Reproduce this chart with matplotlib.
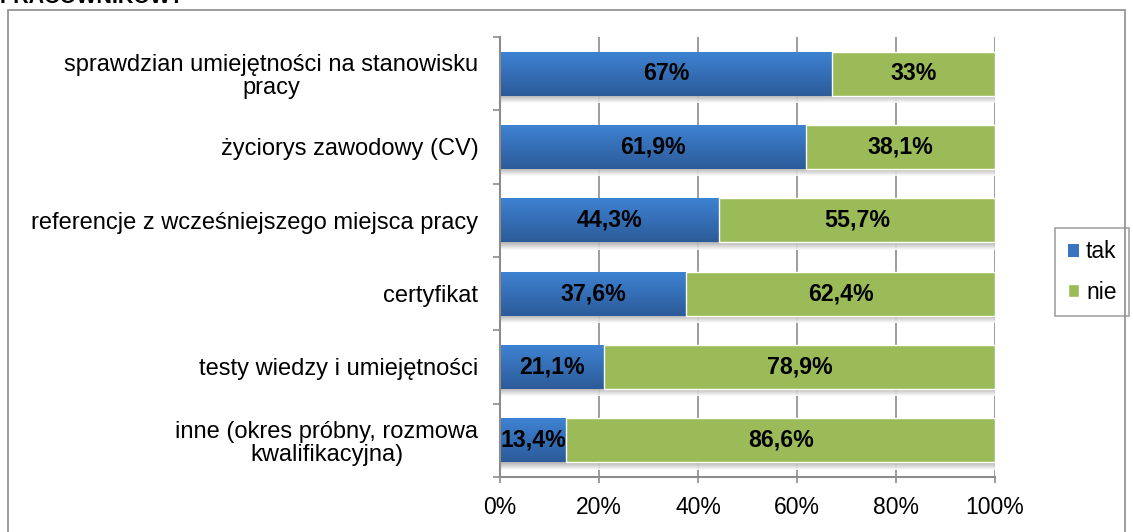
import matplotlib
matplotlib.use('Agg')
import matplotlib.pyplot as plt
import numpy as np
from matplotlib.colors import LinearSegmentedColormap
from matplotlib.patches import Rectangle

categories = [
    'sprawdzian umiejętności na stanowisku\npracy',
    'życiorys zawodowy (CV)',
    'referencje z wcześniejszego miejsca pracy',
    'certyfikat',
    'testy wiedzy i umiejętności',
    'inne (okres próbny, rozmowa\nkwalifikacyjna)',
]
tak = [67.0, 61.9, 44.3, 37.6, 21.1, 13.4]
nie = [33.0, 38.1, 55.7, 62.4, 78.9, 86.6]
tak_labels = ['67%', '61,9%', '44,3%', '37,6%', '21,1%', '13,4%']
nie_labels = ['33%', '38,1%', '55,7%', '62,4%', '78,9%', '86,6%']
x_ticks = [0, 20, 40, 60, 80, 100]
x_tick_labels = ['0%', '20%', '40%', '60%', '80%', '100%']

plt.rcParams['font.family'] = ['Liberation Sans', 'DejaVu Sans']

BLUE = '#3a74c0'
GREEN = '#9bbb59'
GRAY = '#8c8c8c'
bar_h = 0.6

fig = plt.figure(figsize=(11.33, 5.32), dpi=100)
ax = fig.add_axes([500 / 1133, 1 - 477 / 532, 495 / 1133, 440 / 532])

# outer frame of the chart area and the clipped title above it
fig.patches.append(Rectangle((8 / 1133, -0.1), 1117 / 1133, 1.1 - 10 / 532,
                             transform=fig.transFigure, fill=False,
                             edgecolor=GRAY, linewidth=1.2))
fig.text(0.0, 1 - 3 / 532, 'PRACOWNIKÓW?', fontsize=15.5, fontweight='bold',
         va='baseline', ha='left')

blue_cmap = LinearSegmentedColormap.from_list('blue', ['#3e82d2', '#2c5b99'])
shade_cmap = LinearSegmentedColormap.from_list('shade', ['#a8a8a8', '#ffffff'])
grad = np.linspace(0, 1, 64).reshape(-1, 1)

pos = list(range(len(categories)))[::-1]
ax.barh(pos, tak, height=bar_h, color=BLUE, edgecolor='none', label='tak', zorder=2)
ax.barh(pos, nie, left=tak, height=bar_h, color=GREEN, edgecolor='white',
        linewidth=1.0, label='nie', zorder=4)

for p, t, n, tl, nl in zip(pos, tak, nie, tak_labels, nie_labels):
    ax.imshow(grad, cmap=blue_cmap, aspect='auto', interpolation='bilinear',
              extent=(0, t, p - bar_h / 2, p + bar_h / 2), zorder=3)
    ax.imshow(grad, cmap=shade_cmap, aspect='auto', interpolation='bilinear',
              extent=(0, 100, p - bar_h / 2 - 0.1, p - bar_h / 2), zorder=1, alpha=0.9)
    ax.text(t / 2, p, tl, ha='center', va='center', fontsize=16.7, fontweight='bold', zorder=5)
    ax.text(t + n / 2, p, nl, ha='center', va='center', fontsize=16.7, fontweight='bold', zorder=5)

ax.set_xlim(0, 100)
ax.set_ylim(-0.5, len(categories) - 0.5)
ax.set_xticks(x_ticks)
ax.set_xticklabels(x_tick_labels, fontsize=16.5)
ax.set_yticks(pos)
ax.set_yticklabels(categories, fontsize=17, linespacing=1.05)
ax.set_yticks([p + 0.5 for p in range(-1, len(categories))], minor=True)
ax.tick_params(axis='y', which='major', length=0, pad=15.5)
ax.tick_params(axis='y', which='minor', length=5, width=1.2, color=GRAY, direction='out')
ax.tick_params(axis='x', length=4.3, width=1.2, color=GRAY, direction='out', pad=9.5)
for lbl in ax.get_yticklabels():
    lbl.set_multialignment('center')

ax.grid(axis='x', color=GRAY, linewidth=1.2, zorder=0)
ax.set_axisbelow(True)
for side in ['top', 'right']:
    ax.spines[side].set_visible(False)
for side in ['left', 'bottom']:
    ax.spines[side].set_color(GRAY)
    ax.spines[side].set_linewidth(1.5)
    ax.spines[side].set_zorder(6)

leg = ax.legend(loc='center left', bbox_to_anchor=(1055 / 1133, 1 - 272 / 532),
                bbox_transform=fig.transFigure, fontsize=16.5, frameon=True,
                fancybox=False, edgecolor=GRAY, handlelength=0.5,
                handleheight=0.5, handletextpad=0.3, labelspacing=0.75,
                borderpad=0.55, borderaxespad=0)
leg.get_frame().set_linewidth(1.2)

fig.savefig('out.png', dpi=100)
